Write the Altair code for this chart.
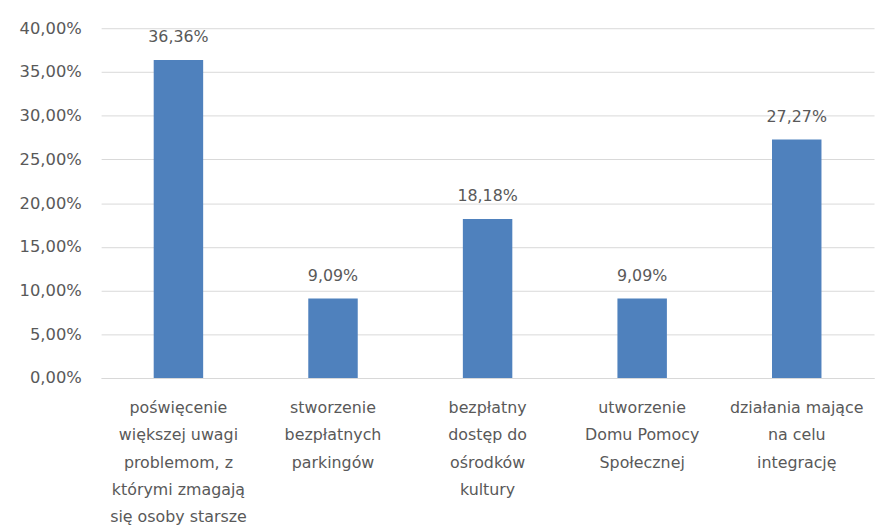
import altair as alt
import pandas as pd

categories = [
    "poświęcenie|większej uwagi|problemom, z|którymi zmagają|się osoby starsze",
    "stworzenie|bezpłatnych|parkingów",
    "bezpłatny|dostęp do|ośrodków|kultury",
    "utworzenie|Domu Pomocy|Społecznej",
    "działania mające|na celu|integrację",
]
values = [0.3636, 0.0909, 0.1818, 0.0909, 0.2727]

df = pd.DataFrame({"cat": categories, "val": values})

FONT = "DejaVu Sans"
TXT = "#595959"

base = alt.Chart(df).encode(
    x=alt.X("cat:N", sort=categories, title=None,
            scale=alt.Scale(paddingInner=0.68, paddingOuter=0.34),
            axis=alt.Axis(labelAngle=0, labelExpr="split(datum.label, '|')",
                          labelFont=FONT, labelFontSize=16, labelColor=TXT,
                          labelLineHeight=27.5, labelPadding=22, ticks=False,
                          labelLimit=200,
                          domain=True, domainColor="#D9D9D9", labelBaseline="top")),
)

bars = base.mark_bar(color="#4F81BD").encode(
    y=alt.Y("val:Q", title=None,
            scale=alt.Scale(domain=[0, 0.4]),
            axis=alt.Axis(values=[0, 0.05, 0.1, 0.15, 0.2, 0.25, 0.3, 0.35, 0.4],
                          labelExpr="replace(format(datum.value, '.2%'), '.', ',')",
                          labelFont=FONT, labelFontSize=16.5, labelColor=TXT,
                          labelPadding=20, ticks=False, domain=False,
                          gridColor="#D9D9D9", gridWidth=1)),
)

labels = base.transform_calculate(
    lab="replace(format(datum.val, '.2%'), '.', ',')"
).mark_text(dy=-23, font=FONT, fontSize=16, color=TXT).encode(
    y="val:Q", text="lab:N"
)

chart = (bars + labels).properties(
    width=780, height=353,
    autosize=alt.AutoSizeParams(type="none"),
    padding={"left": 94, "top": 18, "right": 3, "bottom": 150},
).configure_view(stroke=None)

chart.save("out.html", embed_options={"renderer": "svg", "actions": False})
